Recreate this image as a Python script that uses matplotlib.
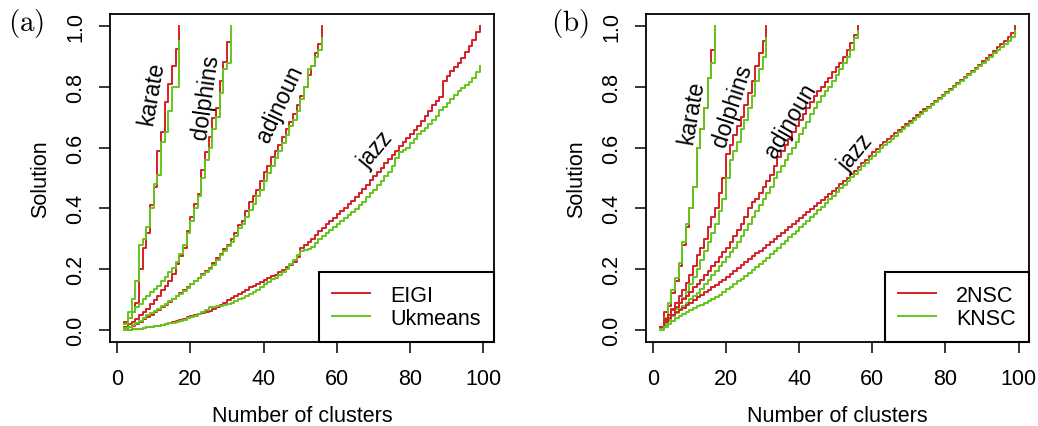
import numpy as np
import matplotlib
matplotlib.use("Agg")
import matplotlib.pyplot as plt

plt.rcParams['font.family'] = ['Liberation Sans', 'DejaVu Sans']
plt.rcParams['mathtext.fontset'] = 'cm'

# ─────────────────────────────────────────────
#  DATA  (solution value vs. number of clusters, k = 2 .. n/2)
# ─────────────────────────────────────────────
networks = ["karate", "dolphins", "adjnoun", "jazz"]
max_clusters = [17, 31, 56, 99]

# panel (a): EIGI vs Ukmeans
karate_eigi = [0.026, 0.04, 0.06, 0.09, 0.20, 0.27, 0.32, 0.41, 0.47, 0.59,
               0.65, 0.75, 0.81, 0.87, 0.925, 1.0]
karate_ukmeans = [0.02, 0.06, 0.10, 0.16, 0.28, 0.30, 0.34, 0.40, 0.48, 0.51,
                  0.62, 0.65, 0.72, 0.80, 0.80, 0.95]

dolphins_eigi = [0.01, 0.02, 0.026, 0.037, 0.048, 0.059, 0.07, 0.086, 0.097, 0.113,
                 0.13, 0.146, 0.162, 0.184, 0.217, 0.244, 0.271, 0.326, 0.37, 0.413,
                 0.446, 0.527, 0.587, 0.636, 0.696, 0.729, 0.821, 0.882, 0.947, 0.947]
dolphins_ukmeans = [0.02, 0.04, 0.06, 0.075, 0.085, 0.10, 0.11, 0.125, 0.135, 0.145,
                    0.16, 0.175, 0.19, 0.205, 0.225, 0.25, 0.28, 0.32, 0.36, 0.40,
                    0.44, 0.50, 0.56, 0.60, 0.66, 0.70, 0.78, 0.86, 0.88, 1.0]

adjnoun_eigi = [0.003, 0.008, 0.012, 0.018, 0.025, 0.035, 0.042, 0.05, 0.058, 0.066,
                0.075, 0.083, 0.092, 0.10, 0.112, 0.12, 0.13, 0.14, 0.152, 0.162,
                0.172, 0.185, 0.195, 0.205, 0.22, 0.235, 0.25, 0.265, 0.28, 0.30,
                0.32, 0.345, 0.36, 0.39, 0.42, 0.44, 0.46, 0.49, 0.52, 0.54,
                0.57, 0.59, 0.61, 0.635, 0.66, 0.685, 0.71, 0.74, 0.77, 0.80,
                0.84, 0.87, 0.91, 0.94, 1.0]
adjnoun_ukmeans = [0.005, 0.01, 0.016, 0.022, 0.03, 0.04, 0.048, 0.055, 0.063, 0.07,
                   0.078, 0.086, 0.094, 0.102, 0.11, 0.118, 0.128, 0.138, 0.15, 0.16,
                   0.17, 0.18, 0.19, 0.20, 0.215, 0.23, 0.245, 0.26, 0.275, 0.29,
                   0.31, 0.335, 0.35, 0.37, 0.395, 0.415, 0.44, 0.46, 0.49, 0.515,
                   0.54, 0.565, 0.59, 0.615, 0.64, 0.67, 0.69, 0.72, 0.76, 0.80,
                   0.86, 0.87, 0.90, 0.92, 0.96]

jazz_eigi = [0.000, 0.001, 0.002, 0.003, 0.004, 0.006, 0.008, 0.010, 0.012, 0.014,
             0.016, 0.019, 0.022, 0.025, 0.029, 0.033, 0.037, 0.041, 0.045, 0.049,
             0.053, 0.056, 0.059, 0.062, 0.068, 0.075, 0.082, 0.090, 0.098, 0.104,
             0.110, 0.118, 0.126, 0.132, 0.140, 0.146, 0.152, 0.157, 0.164, 0.170,
             0.176, 0.182, 0.190, 0.198, 0.206, 0.214, 0.222, 0.240, 0.268, 0.280,
             0.290, 0.300, 0.312, 0.325, 0.336, 0.348, 0.358, 0.368, 0.380, 0.392,
             0.402, 0.414, 0.425, 0.438, 0.450, 0.465, 0.478, 0.492, 0.505, 0.520,
             0.534, 0.548, 0.562, 0.576, 0.590, 0.604, 0.618, 0.632, 0.645, 0.658,
             0.672, 0.688, 0.705, 0.722, 0.740, 0.755, 0.768, 0.818, 0.835, 0.852,
             0.865, 0.880, 0.895, 0.915, 0.935, 0.955, 0.980, 1.000]
jazz_ukmeans = [0.000, 0.001, 0.002, 0.003, 0.004, 0.006, 0.008, 0.010, 0.012, 0.014,
                0.016, 0.018, 0.021, 0.024, 0.027, 0.030, 0.034, 0.038, 0.042, 0.046,
                0.052, 0.058, 0.066, 0.074, 0.076, 0.078, 0.080, 0.083, 0.086, 0.090,
                0.095, 0.100, 0.106, 0.112, 0.118, 0.124, 0.132, 0.140, 0.150, 0.158,
                0.166, 0.172, 0.180, 0.190, 0.202, 0.216, 0.230, 0.245, 0.258, 0.262,
                0.266, 0.272, 0.285, 0.298, 0.310, 0.320, 0.330, 0.340, 0.350, 0.358,
                0.368, 0.378, 0.388, 0.398, 0.410, 0.422, 0.436, 0.450, 0.462, 0.476,
                0.490, 0.505, 0.520, 0.540, 0.565, 0.585, 0.592, 0.600, 0.615, 0.630,
                0.645, 0.655, 0.665, 0.678, 0.692, 0.705, 0.725, 0.735, 0.748, 0.760,
                0.772, 0.785, 0.795, 0.805, 0.815, 0.830, 0.850, 0.870]

# panel (b): 2NSC vs KNSC
karate_2nsc = [0.01, 0.06, 0.08, 0.12, 0.16, 0.21, 0.28, 0.34, 0.40, 0.47,
               0.60, 0.66, 0.73, 0.83, 0.92, 1.0]
karate_knsc = [0.005, 0.04, 0.09, 0.13, 0.17, 0.22, 0.29, 0.35, 0.40, 0.47,
               0.60, 0.66, 0.73, 0.83, 0.88, 1.0]

dolphins_2nsc = [0.01, 0.035, 0.05, 0.07, 0.09, 0.11, 0.13, 0.155, 0.18, 0.21,
                 0.245, 0.27, 0.30, 0.34, 0.37, 0.40, 0.45, 0.50, 0.58, 0.61,
                 0.64, 0.67, 0.70, 0.74, 0.78, 0.82, 0.87, 0.91, 0.95, 1.0]
dolphins_knsc = [0.005, 0.02, 0.035, 0.05, 0.07, 0.09, 0.105, 0.125, 0.15, 0.175,
                 0.20, 0.23, 0.26, 0.29, 0.32, 0.35, 0.39, 0.43, 0.50, 0.56,
                 0.59, 0.62, 0.66, 0.69, 0.73, 0.77, 0.82, 0.86, 0.90, 0.96]

adjnoun_2nsc = [0.01, 0.03, 0.05, 0.065, 0.075, 0.09, 0.10, 0.11, 0.125, 0.14,
                0.15, 0.165, 0.18, 0.195, 0.21, 0.225, 0.24, 0.255, 0.27, 0.29,
                0.31, 0.33, 0.35, 0.37, 0.40, 0.42, 0.43, 0.45, 0.47, 0.49,
                0.51, 0.54, 0.57, 0.59, 0.61, 0.63, 0.65, 0.67, 0.69, 0.71,
                0.73, 0.75, 0.77, 0.785, 0.80, 0.815, 0.83, 0.85, 0.865, 0.88,
                0.90, 0.92, 0.945, 0.97, 1.0]
adjnoun_knsc = [0.005, 0.015, 0.03, 0.045, 0.055, 0.07, 0.08, 0.09, 0.10, 0.11,
                0.12, 0.135, 0.15, 0.165, 0.18, 0.195, 0.21, 0.225, 0.24, 0.255,
                0.27, 0.29, 0.31, 0.33, 0.35, 0.37, 0.39, 0.41, 0.43, 0.45,
                0.47, 0.50, 0.52, 0.54, 0.56, 0.58, 0.60, 0.62, 0.645, 0.665,
                0.685, 0.71, 0.73, 0.75, 0.77, 0.785, 0.80, 0.82, 0.84, 0.86,
                0.88, 0.90, 0.92, 0.96, 0.985]

jazz_2nsc = [0.010, 0.025, 0.040, 0.050, 0.060, 0.065, 0.073, 0.082, 0.090, 0.098,
             0.107, 0.115, 0.124, 0.132, 0.140, 0.148, 0.156, 0.165, 0.174, 0.183,
             0.193, 0.203, 0.213, 0.223, 0.233, 0.243, 0.252, 0.261, 0.270, 0.280,
             0.290, 0.299, 0.308, 0.318, 0.328, 0.338, 0.348, 0.358, 0.368, 0.378,
             0.388, 0.398, 0.408, 0.418, 0.428, 0.438, 0.448, 0.458, 0.468, 0.479,
             0.490, 0.500, 0.512, 0.524, 0.536, 0.548, 0.560, 0.572, 0.584, 0.596,
             0.608, 0.619, 0.629, 0.639, 0.649, 0.659, 0.668, 0.678, 0.688, 0.698,
             0.707, 0.716, 0.726, 0.735, 0.745, 0.754, 0.764, 0.773, 0.783, 0.793,
             0.803, 0.813, 0.823, 0.833, 0.843, 0.853, 0.863, 0.873, 0.884, 0.895,
             0.906, 0.917, 0.930, 0.940, 0.952, 0.964, 0.978, 1.000]
jazz_knsc = [0.000, 0.010, 0.020, 0.030, 0.040, 0.047, 0.053, 0.059, 0.065, 0.071,
             0.077, 0.083, 0.089, 0.095, 0.101, 0.107, 0.115, 0.124, 0.133, 0.142,
             0.151, 0.160, 0.169, 0.178, 0.188, 0.198, 0.208, 0.218, 0.228, 0.238,
             0.249, 0.260, 0.271, 0.283, 0.294, 0.305, 0.316, 0.327, 0.338, 0.349,
             0.360, 0.371, 0.382, 0.394, 0.406, 0.418, 0.430, 0.442, 0.454, 0.466,
             0.478, 0.490, 0.502, 0.514, 0.526, 0.538, 0.550, 0.562, 0.574, 0.586,
             0.598, 0.609, 0.619, 0.629, 0.639, 0.650, 0.660, 0.670, 0.680, 0.690,
             0.700, 0.710, 0.720, 0.730, 0.740, 0.750, 0.760, 0.770, 0.780, 0.790,
             0.800, 0.810, 0.820, 0.830, 0.840, 0.850, 0.860, 0.870, 0.880, 0.890,
             0.900, 0.910, 0.920, 0.930, 0.940, 0.952, 0.965, 0.985]

# curve labels: (k, value, rotation)
labels_a = [(9.6, 0.78, 80), (24.3, 0.77, 82), (44.5, 0.745, 65), (70.5, 0.595, 50)]
labels_b = [(10.7, 0.72, 80), (21.6, 0.74, 72), (37.7, 0.69, 60), (55.5, 0.585, 50)]

RED = "#d61f26"
GREEN = "#66c51a"
FS = 15.5


def draw_panel(ax, first, second, names, curve_labels, tag):
    for n, s1, s2 in zip(max_clusters, first, second):
        k = np.arange(2, n + 1)
        ax.step(k, s1, where="post", color=RED, lw=1.4)
        ax.step(k, s2, where="post", color=GREEN, lw=1.4)

    for name, (x, y, rot) in zip(networks, curve_labels):
        ax.text(x, y, name, rotation=rot, ha="center", va="center", fontsize=16.5)

    ax.set_xlim(-1.88, 102.88)
    ax.set_ylim(-0.04, 1.04)
    ax.set_xticks([0, 20, 40, 60, 80, 100])
    ax.set_yticks([0.0, 0.2, 0.4, 0.6, 0.8, 1.0])
    ax.set_yticklabels(["0.0", "0.2", "0.4", "0.6", "0.8", "1.0"],
                       rotation=90, va="center")
    ax.tick_params(direction="out", length=8, width=1.1, labelsize=FS)
    ax.tick_params(axis="x", pad=11)
    ax.tick_params(axis="y", pad=9)
    for sp in ax.spines.values():
        sp.set_linewidth(1.3)

    ax.set_xlabel("Number of clusters", fontsize=FS, labelpad=11)
    ax.set_ylabel("Solution", fontsize=FS, labelpad=10)

    leg = ax.legend(names, loc="lower right", fontsize=FS, frameon=True,
                    fancybox=False, edgecolor="black", framealpha=1,
                    borderaxespad=0, borderpad=0.62, handlelength=1.75,
                    handletextpad=0.95, labelspacing=0.08)
    leg.get_frame().set_linewidth(1.5)

    ax.figure.text(tag[1], 0.945, r"$\mathrm{(" + tag[0] + ")}$",
                   fontsize=21, ha="center", va="center")


fig = plt.figure(figsize=(10.38, 4.27), dpi=100)
ax_a = fig.add_axes([0.1060, 0.1967, 0.3699, 0.7682])
ax_b = fig.add_axes([0.6224, 0.1967, 0.3690, 0.7682])

draw_panel(ax_a,
           [karate_eigi, dolphins_eigi, adjnoun_eigi, jazz_eigi],
           [karate_ukmeans, dolphins_ukmeans, adjnoun_ukmeans, jazz_ukmeans],
           ["EIGI", "Ukmeans"], labels_a, ("a", 0.025))
draw_panel(ax_b,
           [karate_2nsc, dolphins_2nsc, adjnoun_2nsc, jazz_2nsc],
           [karate_knsc, dolphins_knsc, adjnoun_knsc, jazz_knsc],
           ["2NSC", "KNSC"], labels_b, ("b", 0.549))

fig.savefig("out.png", dpi=100)
